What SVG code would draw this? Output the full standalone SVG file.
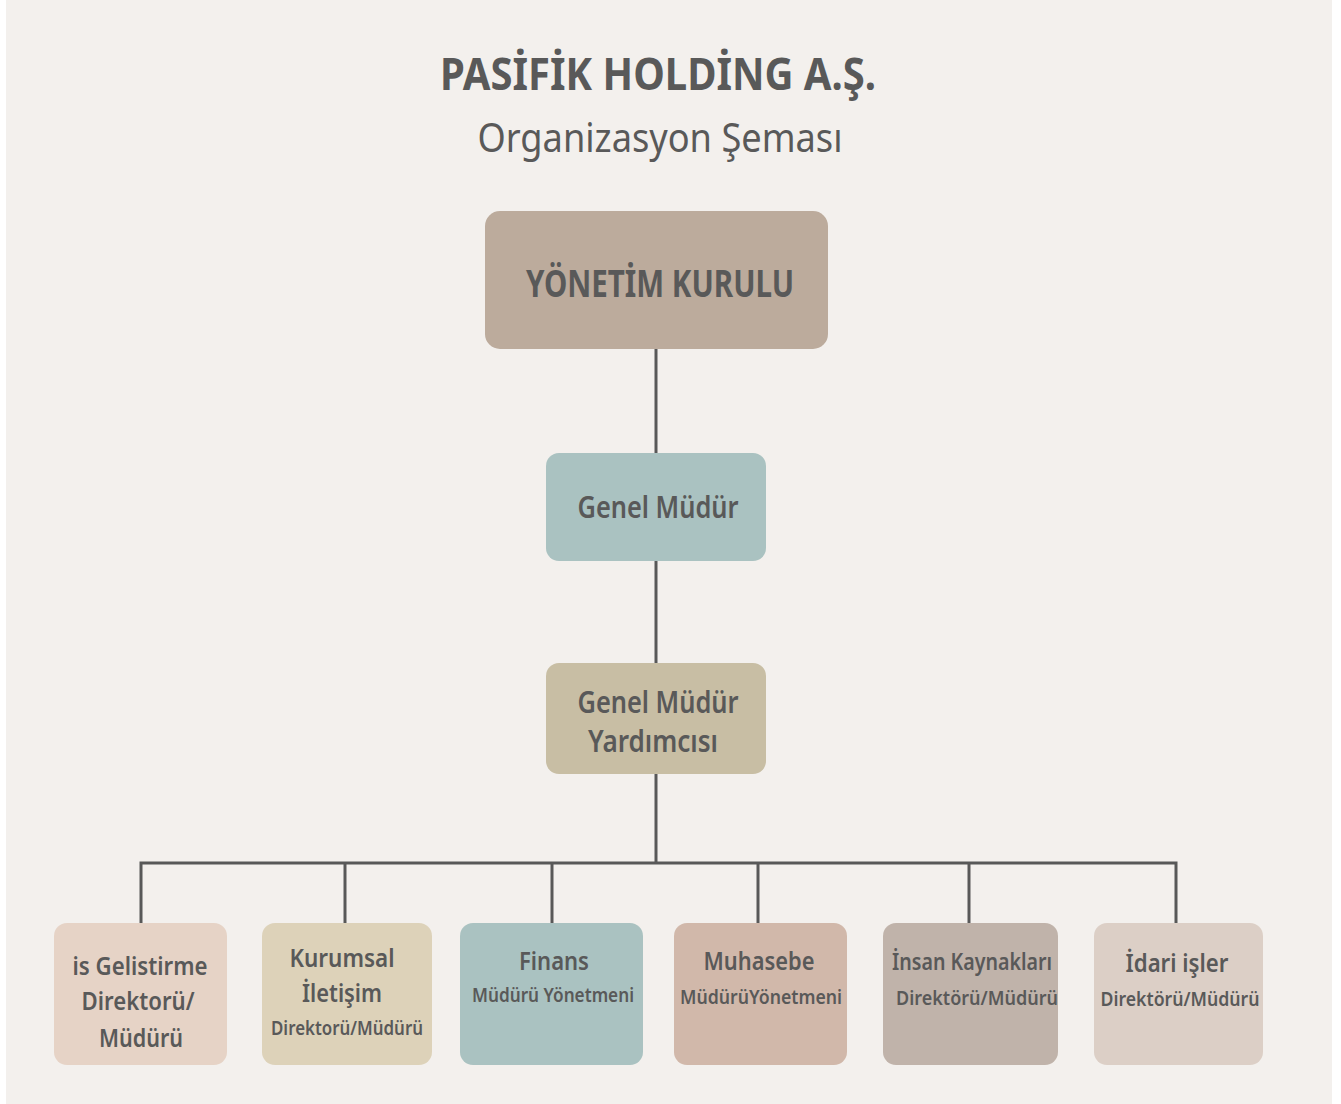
<svg xmlns="http://www.w3.org/2000/svg" width="1341" height="1104" viewBox="0 0 1341 1104">
<style>
.t{font-family:"Noto Sans","Open Sans","DejaVu Sans",sans-serif;fill:#595959;text-anchor:middle}
.b{font-weight:700}
.m{font-weight:600}
.n{stroke:none}
.c{stroke:#585858;stroke-width:3;fill:none}
</style>
<rect x="0" y="0" width="1341" height="1104" fill="#ffffff"/>
<rect x="6" y="0" width="1326" height="1104" fill="#f3f0ed"/>
<g id="title">
<text class="t b" x="658" y="90" font-size="44" textLength="436" lengthAdjust="spacingAndGlyphs">PASİFİK HOLDİNG A.Ş.</text>
<text class="t" x="660" y="152" font-size="40" textLength="365" lengthAdjust="spacingAndGlyphs">Organizasyon Şeması</text>
</g>
<g id="connectors">
<line class="c" x1="656" y1="349" x2="656" y2="453"/>
<line class="c" x1="656" y1="561" x2="656" y2="663"/>
<line class="c" x1="656" y1="774" x2="656" y2="863"/>
<polyline class="c" points="141,923 141,863 1176,863 1176,923"/>
<line class="c" x1="345" y1="863" x2="345" y2="923"/>
<line class="c" x1="552" y1="863" x2="552" y2="923"/>
<line class="c" x1="758" y1="863" x2="758" y2="923"/>
<line class="c" x1="969" y1="863" x2="969" y2="923"/>
</g>
<g id="yonetim-kurulu">
<rect x="485" y="211" width="343" height="138" rx="15" fill="#bcab9c"/>
<text class="t b" x="660" y="297" font-size="38" textLength="268" lengthAdjust="spacingAndGlyphs">YÖNETİM KURULU</text>
</g>
<g id="genel-mudur">
<rect x="546" y="453" width="220" height="108" rx="13" fill="#aac2c1"/>
<text class="t m" x="658" y="518" font-size="31" textLength="161" lengthAdjust="spacingAndGlyphs">Genel Müdür</text>
</g>
<g id="genel-mudur-yardimcisi">
<rect x="546" y="663" width="220" height="111" rx="13" fill="#c8bea4"/>
<text class="t m" x="658" y="713" font-size="31" textLength="161" lengthAdjust="spacingAndGlyphs">Genel Müdür</text>
<text class="t m" x="653" y="752" font-size="31" textLength="130" lengthAdjust="spacingAndGlyphs">Yardımcısı</text>
</g>
<g id="is-gelistirme">
<rect x="54" y="923" width="173" height="142" rx="13" fill="#e6d3c6"/>
<text class="t m" x="140" y="975" font-size="26" textLength="135" lengthAdjust="spacingAndGlyphs">is Gelistirme</text>
<text class="t m" x="138" y="1010" font-size="26" textLength="113" lengthAdjust="spacingAndGlyphs">Direktorü/</text>
<text class="t m" x="141" y="1047" font-size="26" textLength="84" lengthAdjust="spacingAndGlyphs">Müdürü</text>
</g>
<g id="kurumsal-iletisim">
<rect x="262" y="923" width="170" height="142" rx="13" fill="#ddd2b9"/>
<text class="t m" x="342" y="967" font-size="26" textLength="105" lengthAdjust="spacingAndGlyphs">Kurumsal</text>
<text class="t m" x="342" y="1002" font-size="26" textLength="80" lengthAdjust="spacingAndGlyphs">İletişim</text>
<text class="t m" x="347" y="1035" font-size="20" textLength="152" lengthAdjust="spacingAndGlyphs">Direktorü/Müdürü</text>
</g>
<g id="finans">
<rect x="460" y="923" width="183" height="142" rx="13" fill="#aac2c1"/>
<text class="t m" x="554" y="970" font-size="25" textLength="70" lengthAdjust="spacingAndGlyphs">Finans</text>
<text class="t m" x="553" y="1002" font-size="20" textLength="162" lengthAdjust="spacingAndGlyphs">Müdürü Yönetmeni</text>
</g>
<g id="muhasebe">
<rect x="674" y="923" width="173" height="142" rx="13" fill="#d1b8aa"/>
<text class="t m" x="759" y="970" font-size="25" textLength="111" lengthAdjust="spacingAndGlyphs">Muhasebe</text>
<text class="t m" x="761" y="1004" font-size="20" textLength="162" lengthAdjust="spacingAndGlyphs">MüdürüYönetmeni</text>
</g>
<g id="insan-kaynaklari">
<rect x="883" y="923" width="175" height="142" rx="13" fill="#c0b3aa"/>
<text class="t m" x="972" y="970" font-size="24" textLength="160" lengthAdjust="spacingAndGlyphs">İnsan Kaynakları</text>
<text class="t m" x="977" y="1005" font-size="20" textLength="162" lengthAdjust="spacingAndGlyphs">Direktörü/Müdürü</text>
</g>
<g id="idari-isler">
<rect x="1094" y="923" width="169" height="142" rx="13" fill="#dccfc6"/>
<text class="t m" x="1177" y="972" font-size="25" textLength="103" lengthAdjust="spacingAndGlyphs">İdari işler</text>
<text class="t m" x="1180" y="1006" font-size="20" textLength="159" lengthAdjust="spacingAndGlyphs">Direktörü/Müdürü</text>
</g>
</svg>
